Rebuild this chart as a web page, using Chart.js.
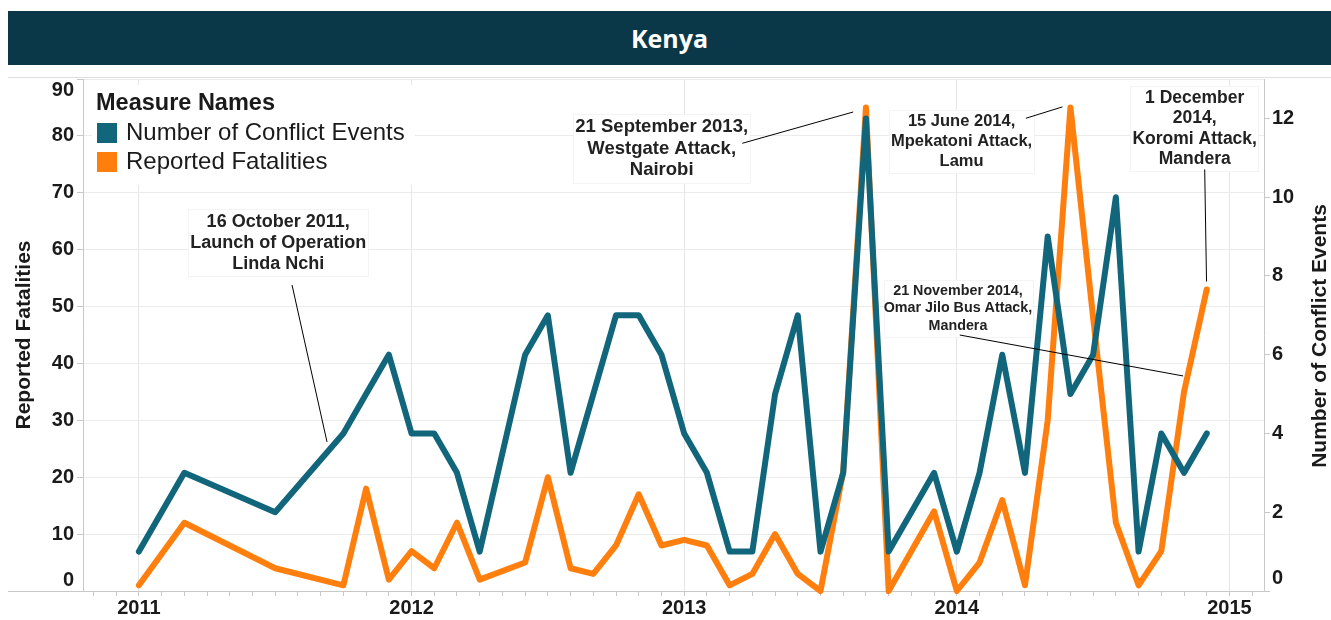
<!DOCTYPE html>
<html><head><meta charset="utf-8">
<script src="https://cdn.jsdelivr.net/npm/chart.js@4.4.0/dist/chart.umd.min.js"></script>
<style>
html,body{margin:0;padding:0;background:#fff;width:1331px;height:620px;overflow:hidden;}
#bar{position:absolute;left:8px;top:11px;width:1323px;height:54px;background:#0b3848;color:#fff;font:bold 25px 'Open Sans',sans-serif;display:flex;align-items:center;justify-content:center;}
#sep{position:absolute;left:8px;top:77px;width:1323px;height:1px;background:#dedede;}
canvas{position:absolute;left:0;top:0;}
</style></head><body>
<div id="bar">Kenya</div><div id="sep"></div>
<canvas id="c" width="1331" height="620"></canvas>
<script>
// ---- data ----
const months = ['2011-01','2011-03','2011-07','2011-10','2011-11','2011-12',
  '2012-01','2012-02','2012-03','2012-04','2012-06','2012-07','2012-08','2012-09','2012-10','2012-11','2012-12',
  '2013-01','2013-02','2013-03','2013-04','2013-05','2013-06','2013-07','2013-08','2013-09','2013-10','2013-12',
  '2014-01','2014-02','2014-03','2014-04','2014-05','2014-06','2014-07','2014-08','2014-09','2014-10','2014-11','2014-12'];
const conflictEvents = [1,3,2,4,5,6, 4,4,3,1,6,7,3,5,7,7,6, 4,3,1,1,5,7,1,3,12,1,3, 1,3,6,3,9,5,6,10,1,4,3,4];
const reportedFatalities = [1,12,4,1,18,2, 7,4,12,2,5,20,4,3,8,17,8, 9,8,1,3,10,3,0,21,85,0,14, 0,5,16,1,30,85,48,12,1,7,35,53];
const yearLabels = ['2011','2012','2013','2014','2015'];
const seriesNames = ['Number of Conflict Events','Reported Fatalities'];
const legendTitle = 'Measure Names';
const axisTitles = {left:'Reported Fatalities', right:'Number of Conflict Events'};

const notes = [
  {lines:['16 October 2011,','Launch of Operation','Linda Nchi'], x:6.13, y:64.9, size:18, lh:21, pad:2, from:[6.74,53.8], to:[8.28,26.2]},
  {lines:['21 September 2013,','Westgate Attack,','Nairobi'], x:23.01, y:81.6, size:18.5, lh:21.7, pad:2, from:[26.56,78.7], to:[31.44,84.2]},
  {lines:['15 June 2014,','Mpekatoni Attack,','Lamu'], x:36.21, y:82.5, size:16.5, lh:19.7, pad:2, from:[39.04,83.1], to:[40.65,85.1]},
  {lines:['1 December','2014,','Koromi Attack,','Mandera'], x:46.47, y:86.6, size:17.5, lh:20.3, pad:2, from:[46.91,74.1], to:[46.99,54.4]},
  {lines:['21 November 2014,','Omar Jilo Bus Attack,','Mandera'], x:36.05, y:52.8, size:14.3, lh:17.7, pad:0, from:[36.13,45.0], to:[45.96,37.8]}
];

const FONT = "'Liberation Sans', Arial, sans-serif";
const TXT = '#1a1a1a';
const BLUE = '#11667b', ORANGE = '#ff7f0e';
function monthIndex(s){ const [y,m] = s.split('-').map(Number); return (y-2011)*12 + (m-1); }

const overlay = {
  id:'overlay',
  afterDatasetsDraw(chart){
    const {ctx, chartArea:ca, scales} = chart;
    const xs = scales.x, yl = scales.yL, yr = scales.yR;
    ctx.save();
    // axis baseline extension to the left
    ctx.strokeStyle='#c8c8c8'; ctx.lineWidth=1;
    ctx.beginPath(); ctx.moveTo(8, Math.round(ca.bottom)+0.5); ctx.lineTo(ca.left, Math.round(ca.bottom)+0.5); ctx.stroke();
    // legend
    ctx.fillStyle='#fff'; ctx.fillRect(ca.left+9, ca.top+6, 323, 100);
    ctx.textBaseline='middle'; ctx.textAlign='left';
    ctx.fillStyle=TXT; ctx.font='bold 23.5px '+FONT;
    ctx.fillText(legendTitle, ca.left+13, ca.top+25);
    chart.data.datasets.forEach((d,i)=>{
      const cy = ca.top + 54 + i*29;
      ctx.fillStyle=d.borderColor; ctx.fillRect(ca.left+14, cy-10, 20, 20);
      ctx.fillStyle=TXT; ctx.font='24px '+FONT; ctx.fillText(d.label, ca.left+43, cy);
    });
    // annotations
    notes.forEach(n=>{
      ctx.font='bold '+n.size+'px '+FONT;
      const cx = xs.getPixelForValue(n.x), y0 = yl.getPixelForValue(n.y);
      const w = Math.max(...n.lines.map(t=>ctx.measureText(t).width));
      const bx = cx - w/2 - n.pad, by = y0 - n.lh/2 - 2, bw = w + 2*n.pad, bh = n.lh*n.lines.length + 4;
      ctx.fillStyle='#fff'; ctx.fillRect(bx,by,bw,bh);
      ctx.strokeStyle='#f4f4f4'; ctx.lineWidth=1; ctx.strokeRect(Math.round(bx)+0.5,Math.round(by)+0.5,Math.round(bw),Math.round(bh));
      ctx.fillStyle='#222'; ctx.textAlign='center'; ctx.textBaseline='middle';
      n.lines.forEach((t,i)=>ctx.fillText(t, cx, y0 + i*n.lh));
      ctx.strokeStyle='#000'; ctx.lineWidth=1;
      ctx.beginPath();
      ctx.moveTo(xs.getPixelForValue(n.from[0]), yl.getPixelForValue(n.from[1]));
      ctx.lineTo(xs.getPixelForValue(n.to[0]), yl.getPixelForValue(n.to[1]));
      ctx.stroke();
    });
    // edge tick labels (shifted inward like the original)
    ctx.fillStyle=TXT; ctx.font='bold 20px '+FONT; ctx.textBaseline='middle';
    ctx.textAlign='right';
    ctx.fillText('0', ca.left-9, yl.getPixelForValue(0)-11);
    ctx.fillText('90', ca.left-9, yl.getPixelForValue(90)+11);
    ctx.textAlign='left';
    ctx.fillText('0', ca.right+8, yr.getPixelForValue(0)-13);
    // right axis title, reading bottom-to-top
    ctx.save();
    ctx.translate(yr.right - 10.5, (ca.top + ca.bottom)/2 + 1);
    ctx.rotate(-Math.PI/2);
    ctx.textAlign='center'; ctx.textBaseline='middle';
    ctx.font='bold 21px '+FONT; ctx.fillStyle=TXT;
    ctx.fillText(axisTitles.right, 0, 0);
    ctx.restore();
    ctx.restore();
  }
};

new Chart(document.getElementById('c'), {
  type:'line',
  data:{
    datasets:[
      {label:seriesNames[0], data:months.map((m,i)=>({x:monthIndex(m), y:conflictEvents[i]})), yAxisID:'yR',
       borderColor:BLUE, backgroundColor:BLUE, borderWidth:6, pointRadius:0, pointHoverRadius:0, tension:0,
       borderJoinStyle:'round', borderCapStyle:'round', clip:10},
      {label:seriesNames[1], data:months.map((m,i)=>({x:monthIndex(m), y:reportedFatalities[i]})), yAxisID:'yL',
       borderColor:ORANGE, backgroundColor:ORANGE, borderWidth:6, pointRadius:0, pointHoverRadius:0, tension:0,
       borderJoinStyle:'round', borderCapStyle:'round', clip:10}
    ]
  },
  options:{
    responsive:false, animation:false, devicePixelRatio:1,
    layout:{padding:{top:79,left:0,right:0,bottom:0}},
    plugins:{legend:{display:false}, tooltip:{enabled:false}, title:{display:false}},
    scales:{
      x:{type:'linear', min:-2.46, max:49.52,
        afterBuildTicks:s=>{ const t=[]; for(let m=Math.ceil(s.min); m<=Math.floor(s.max); m++) t.push({value:m}); s.ticks=t; },
        ticks:{autoSkip:false, maxRotation:0, minRotation:0, padding:0, color:TXT, font:{family:FONT, size:20, weight:'bold'},
          callback:v=> (v%12===0 && yearLabels[v/12]!==undefined) ? yearLabels[v/12] : ''},
        grid:{color:c=> (c.tick && c.tick.value%12===0) ? '#e6e6e6' : 'rgba(0,0,0,0)', tickColor:'#c8c8c8', tickLength:5, lineWidth:1},
        border:{color:'#c8c8c8'},
        afterFit:s=>{ s.height=29; }
      },
      yL:{type:'linear', position:'left', min:0, max:90,
        ticks:{stepSize:10, padding:3, color:TXT, font:{family:FONT, size:20, weight:'bold'}, callback:v=>(v===0||v===90)?'':v},
        grid:{color:'#ebebeb', tickColor:'#c8c8c8', tickLength:6},
        border:{color:'#c8c8c8'},
        title:{display:true, text:axisTitles.left, color:TXT, font:{family:FONT, size:21, weight:'bold', lineHeight:1}, padding:{top:13.5,bottom:0}},
        afterFit:s=>{ s.width=83; }
      },
      yR:{type:'linear', position:'right', min:0, max:13,
        ticks:{stepSize:2, includeBounds:false, padding:2, color:TXT, font:{family:FONT, size:20, weight:'bold'}, callback:v=>v===0?'':v},
        grid:{drawOnChartArea:false, tickColor:'#c8c8c8', tickLength:6},
        border:{color:'#c8c8c8'},
        title:{display:false},
        afterFit:s=>{ s.width=67; }
      }
    }
  },
  plugins:[overlay]
});
</script>
</body></html>
